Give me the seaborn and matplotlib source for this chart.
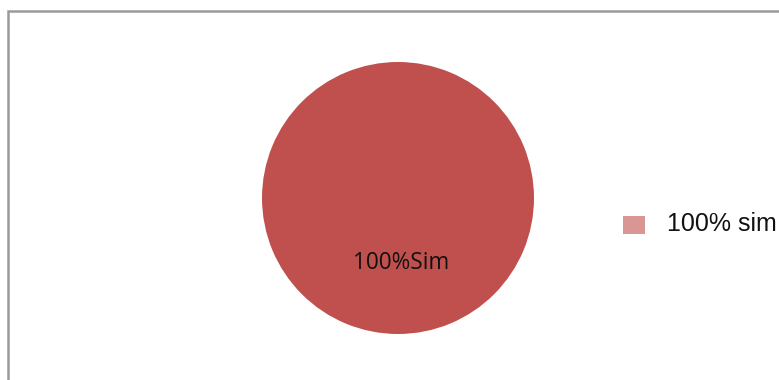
import matplotlib
matplotlib.use("Agg")
import matplotlib.pyplot as plt
import seaborn as sns
from matplotlib.patches import Rectangle

categories = ["100% sim"]
values = [100]
slice_labels = ["100%Sim"]
pie_color = "#C0504D"
legend_color = "#DA9694"

sns.set_theme(style="white")
plt.rcParams['font.family'] = ['Liberation Sans', 'DejaVu Sans']

W, H = 779, 380
fig = plt.figure(figsize=(W / 100, H / 100), dpi=100)
fig.patch.set_facecolor("white")

# frame (left & top visible, right/bottom run off the image)
fig.patches.append(Rectangle((7.5 / W, -0.1), 1.2, (H - 10.5) / H + 0.1,
                             transform=fig.transFigure, fill=False,
                             edgecolor="#9a9a9a", linewidth=1.8))

cx, cy, r = 398, H - 198, 136
ax = fig.add_axes([(cx - r) / W, (cy - r) / H, 2 * r / W, 2 * r / H])
wedges, _ = ax.pie(values, colors=[pie_color], startangle=90, radius=1,
                   wedgeprops=dict(linewidth=0))
ax.set_xlim(-1, 1)
ax.set_ylim(-1, 1)
ax.set_aspect("equal")
ax.axis("off")
ax.text(0.02, -0.48, slice_labels[0], ha="center", va="center",
        fontsize=16.3, color="#111111", family=["Open Sans", "DejaVu Sans"])

# legend
fig.patches.append(Rectangle((623 / W, (H - 234) / H), 22 / W, 18 / H,
                             transform=fig.transFigure, facecolor=legend_color,
                             edgecolor="none"))
fig.text(667 / W, (H - 224) / H, categories[0], ha="left", va="center",
         fontsize=18, color="#111111")

fig.savefig("out.png", dpi=100, facecolor="white")
